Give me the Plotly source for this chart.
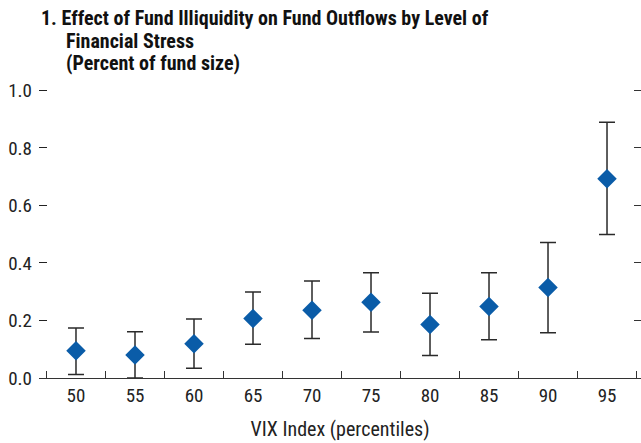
import plotly.graph_objects as go

categories = ["50", "55", "60", "65", "70", "75", "80", "85", "90", "95"]
effect = [0.095, 0.080, 0.119, 0.207, 0.236, 0.263, 0.186, 0.249, 0.315, 0.693]
upper = [0.174, 0.161, 0.205, 0.299, 0.337, 0.366, 0.295, 0.366, 0.471, 0.889]
lower = [0.012, 0.000, 0.034, 0.117, 0.137, 0.160, 0.078, 0.133, 0.157, 0.499]
y_ticks = [0.0, 0.2, 0.4, 0.6, 0.8, 1.0]
y_labels = ["0.0", "0.2", "0.4", "0.6", "0.8", "1.0"]

FONT = "Roboto Condensed, Liberation Sans Narrow, sans-serif"

err_plus = [u - e for u, e in zip(upper, effect)]
err_minus = [e - l for e, l in zip(effect, lower)]

W, H = 641, 443
L, T, B, R = 39, 89, 65, 0
plot_w = W - L - R
plot_h = H - T - B

fig = go.Figure()
fig.add_trace(go.Scatter(
    x=categories, y=effect, mode="markers",
    marker=dict(symbol="diamond", size=15, color="#0A5CA8"),
    error_y=dict(type="data", symmetric=False, array=err_plus, arrayminus=err_minus,
                 color="#2a2a2a", thickness=1.5, width=8),
    showlegend=False, cliponaxis=False,
))
fig.add_trace(go.Scatter(x=categories, y=effect, yaxis="y2", mode="markers",
                         marker=dict(opacity=0), showlegend=False, hoverinfo="skip"))

fig.update_layout(
    width=W, height=H,
    margin=dict(l=L, r=R, t=T, b=B, pad=0, autoexpand=False),
    paper_bgcolor="white", plot_bgcolor="white",
    font=dict(family=FONT, size=19, color="#222222"),
    xaxis=dict(type="category", range=[-0.627, 9.576], tickson="boundaries",
               ticks="inside", ticklen=7, tickcolor="#333333", tickwidth=1.3,
               showline=True, linecolor="#333333", linewidth=1.3,
               showgrid=False, zeroline=False, automargin=False,
               title=dict(text="VIX Index (percentiles)", font=dict(size=20), standoff=16)),
    yaxis=dict(range=[0, 1.005], tickvals=y_ticks, ticktext=y_labels,
               ticks="inside", ticklen=8, tickcolor="#222222", tickwidth=1.4,
               ticklabelstandoff=6, layer="above traces",
               showline=False, showgrid=False, zeroline=False, automargin=False),
    yaxis2=dict(range=[0, 1.005], tickvals=y_ticks, overlaying="y", side="right",
                ticks="inside", ticklen=7, tickcolor="#333333", tickwidth=1.2,
                showticklabels=False, showline=False, showgrid=False, zeroline=False,
                automargin=False),
)

title_lines = [
    ("1. Effect of Fund Illiquidity on Fund Outflows by Level of", 0, 18),
    ("Financial Stress", 25, 41),
    ("(Percent of fund size)", 25, 63),
]
for text, xpx, ypx in title_lines:
    fig.add_annotation(text="<b>" + text + "</b>", xref="paper", yref="paper",
                       x=xpx / plot_w, y=(H - B - ypx) / plot_h,
                       xanchor="left", yanchor="middle", showarrow=False,
                       font=dict(family=FONT, size=20, color="#111111"))

fig.write_html("out.html", config={"displayModeBar": False},
               post_script="document.body.style.margin='0';")
